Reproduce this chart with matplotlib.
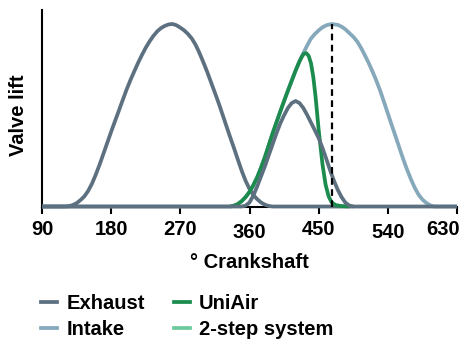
import matplotlib
matplotlib.use("Agg")
import matplotlib.pyplot as plt
import matplotlib.transforms as mtransforms

plt.rcParams["font.family"] = ["Liberation Sans", "DejaVu Sans"]
plt.rcParams["font.weight"] = "bold"

# crank angle (deg) and normalised valve lift
exh_deg = [90, 120, 125, 130, 135, 140, 145, 150, 155, 160, 165, 170, 175, 180, 185, 190, 195,
           200, 205, 210, 215, 220, 225, 230, 235, 240, 245, 250, 255, 260, 265, 270, 275,
           280, 285, 290, 295, 300, 305, 310, 315, 320, 325, 330, 335, 340, 345, 350, 355,
           360, 365, 370, 375, 380, 385, 390, 630]
exh_lift = [0, 0, 0.002, 0.008, 0.018, 0.035, 0.055, 0.085, 0.125, 0.175, 0.23, 0.29, 0.35, 0.41,
            0.468, 0.525, 0.583, 0.64, 0.692, 0.74, 0.787, 0.83, 0.87, 0.905, 0.935, 0.96, 0.978,
            0.99, 0.998, 1.0, 0.993, 0.98, 0.965, 0.945, 0.92, 0.885, 0.84, 0.79, 0.737, 0.68,
            0.623, 0.565, 0.503, 0.44, 0.378, 0.318, 0.255, 0.194, 0.14, 0.096, 0.063, 0.04,
            0.022, 0.01, 0.003, 0, 0]

int_deg = [90, 335, 340, 345, 350, 355, 360, 365, 370, 375, 380, 385, 390, 395, 400, 405, 410,
           415, 420, 425, 430, 435, 440, 445, 450, 455, 460, 467, 475, 480, 485, 490, 495, 500,
           505, 510, 515, 520, 525, 530, 535, 540, 545, 550, 555, 560, 565, 570, 575, 580, 585,
           590, 595, 600, 630]
int_lift = [0, 0, 0.005, 0.014, 0.03, 0.052, 0.08, 0.117, 0.16, 0.213, 0.27, 0.335, 0.40, 0.46,
            0.52, 0.578, 0.635, 0.69, 0.745, 0.795, 0.84, 0.882, 0.92, 0.945, 0.965, 0.982, 0.993,
            1.0, 0.995, 0.985, 0.97, 0.95, 0.93, 0.905, 0.87, 0.83, 0.787, 0.74, 0.69, 0.635,
            0.573, 0.51, 0.447, 0.385, 0.322, 0.26, 0.202, 0.15, 0.103, 0.065, 0.038, 0.02,
            0.007, 0, 0]

uni_deg = [335, 340, 345, 350, 355, 360, 365, 370, 375, 380, 385, 390, 395, 400, 405, 410, 415,
           420, 425, 428, 431, 434, 437, 440, 443, 446, 450, 455, 459, 463, 467, 472, 480, 490]
uni_lift = [0, 0.005, 0.014, 0.03, 0.052, 0.08, 0.117, 0.16, 0.213, 0.27, 0.335, 0.40, 0.46,
            0.52, 0.578, 0.635, 0.69, 0.745, 0.795, 0.82, 0.838, 0.84, 0.825, 0.785, 0.71, 0.6,
            0.42, 0.23, 0.12, 0.055, 0.022, 0.008, 0.002, 0]

small_deg = [90, 350, 355, 360, 365, 370, 375, 380, 385, 390, 395, 400, 405, 410, 415, 420, 425,
             430, 435, 440, 445, 450, 455, 460, 465, 470, 475, 480, 485, 490, 495]
small_lift = [0, 0, 0.005, 0.022, 0.06, 0.11, 0.165, 0.22, 0.28, 0.34, 0.4, 0.455, 0.5, 0.54,
              0.567, 0.578, 0.567, 0.54, 0.502, 0.46, 0.418, 0.375, 0.32, 0.26, 0.197, 0.14,
              0.09, 0.05, 0.02, 0.005, 0]

marker_deg = 467
xticks = [90, 180, 270, 360, 450, 540, 630]

C_EXH = "#5d7080"
C_INT = "#86a8bb"
C_UNI = "#1b8c4e"
C_2ST = "#6fc9a0"

fig = plt.figure(figsize=(4.62, 3.39), dpi=100)
ax = fig.add_axes([42 / 462, 1 - 206.5 / 339, 415 / 462, 196.5 / 339])

lw = 2.7
kw = dict(lw=lw, clip_on=False, solid_joinstyle="round", solid_capstyle="butt")
ax.plot(int_deg, int_lift, color=C_INT, zorder=2, **kw)
ax.plot(exh_deg, exh_lift, color=C_EXH, zorder=3, **kw)
ax.plot(uni_deg, uni_lift, color=C_UNI, zorder=4, **kw)
ax.plot(small_deg, small_lift, color=C_EXH, zorder=5, **kw)
ax.plot([marker_deg, marker_deg], [0, 1.0], color="black", lw=1.6, ls=(0, (3, 2)), zorder=6)

ax.set_xlim(90, 630)
ax.set_ylim(0, 1.0767)
ax.set_xticks(xticks)
ax.set_xticklabels([str(t) for t in xticks])
ax.set_yticks([])
for s in ["top", "right"]:
    ax.spines[s].set_visible(False)
ax.spines["left"].set_linewidth(1.5)
ax.spines["bottom"].set_linewidth(1.5)
ax.spines["left"].set_zorder(1)
ax.spines["bottom"].set_zorder(1)
ax.tick_params(axis="x", direction="out", length=5, width=1.5, pad=5, labelsize=14.5)

# 360 and 540 sit a bit lower in the original, 630 is pulled inside
for lab in ax.get_xticklabels():
    if lab.get_text() in ("360", "540"):
        lab.set_transform(lab.get_transform() +
                          mtransforms.ScaledTranslation(0, -3 / 100, fig.dpi_scale_trans))
    if lab.get_text() == "630":
        lab.set_ha("right")
        lab.set_transform(lab.get_transform() +
                          mtransforms.ScaledTranslation(3 / 100, 0, fig.dpi_scale_trans))

fig.text(249 / 462, 1 - 263 / 339, "° Crankshaft", ha="center", va="center",
         fontsize=14.5, fontweight="bold")
fig.text(18.5 / 462, 1 - 115 / 339, "Valve lift", ha="center", va="center",
         rotation=90, fontsize=14.5, fontweight="bold")

handles = [plt.Line2D([], [], color=c, lw=lw) for c in (C_EXH, C_INT, C_UNI, C_2ST)]
labels = ["Exhaust", "Intake", "UniAir", "2-step system"]
fig.legend(handles, labels, ncol=2, loc="upper left",
           bbox_to_anchor=(41 / 462, 1 - 294 / 339), frameon=False,
           fontsize=14.5, handlelength=0.8, handletextpad=0.45,
           columnspacing=1.45, labelspacing=0.33, borderpad=0, borderaxespad=0)

fig.savefig("out.png", dpi=100)
